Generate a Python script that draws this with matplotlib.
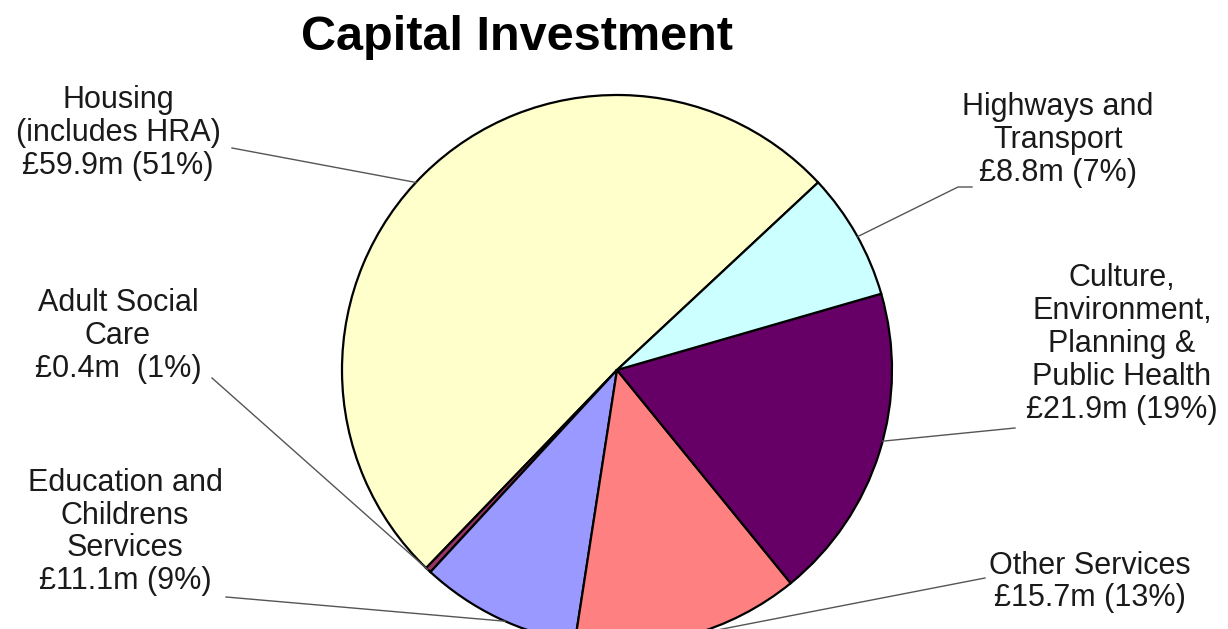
import matplotlib.pyplot as plt
import numpy as np

plt.rcParams['font.family'] = ['Liberation Sans', 'DejaVu Sans']

# data (counter-clockwise from the Housing slice)
services = ["Housing\n(includes HRA)", "Adult Social\nCare", "Education and\nChildrens\nServices",
            "Other Services", "Culture,\nEnvironment,\nPlanning &\nPublic Health", "Highways and\nTransport"]
spend = [59.9, 0.4, 11.1, 15.7, 21.9, 8.8]
pct_text = ["51%", "1%", "9%", "13%", "19%", "7%"]
colours = ["#FFFFCC", "#993366", "#9999FF", "#FF8080", "#660066", "#CCFFFF"]

# label text positions (pixel coords, y from top), leader line start points
# and the angle where each leader meets the pie
label_xy = [(118, 133), (118, 336), (125, 532), (1090, 582), (1122, 344), (1058, 140)]
line_from = [(232, 148), (212, 378), (226, 597), (985, 578), (1015, 428), (972, 187)]
line_ang = [137, 226.5, 246, 285, 345, 29]

W, H = 1228, 629
fig = plt.figure(figsize=(W / 100, H / 100), dpi=100)
ax = fig.add_axes([0, 0, 1, 1])

cx, cy, r = 617, H - 370, 275
wedges, _ = ax.pie(spend, colors=colours, startangle=43, counterclock=True,
                   center=(cx, cy), radius=r, frame=True,
                   wedgeprops=dict(edgecolor='black', linewidth=1.6))
ax.set_xlim(0, W)
ax.set_ylim(0, H)
ax.set_aspect('equal')
ax.axis('off')

for i, w in enumerate(wedges):
    gap = "  " if i == 1 else " "
    txt = services[i] + "\n£%.1fm%s(%s)" % (spend[i], gap, pct_text[i])
    lx, ly = label_xy[i]
    ax.text(lx, H - ly, txt, ha='center', va='center', fontsize=22,
            linespacing=1.13, color='#1a1a1a')
    ang = np.deg2rad(line_ang[i])
    ex, ey = cx + r * np.cos(ang), cy + r * np.sin(ang)
    sx, sy = line_from[i]
    if i == 5:
        ax.plot([sx, sx - 14, ex], [H - sy, H - sy, ey], color='#555555', lw=1)
    else:
        ax.plot([sx, ex], [H - sy, ey], color='#555555', lw=1)

ax.text(517, H - 38, "Capital Investment", ha='center', va='center',
        fontsize=35, fontweight='bold')

fig.savefig("out.png", dpi=100)
